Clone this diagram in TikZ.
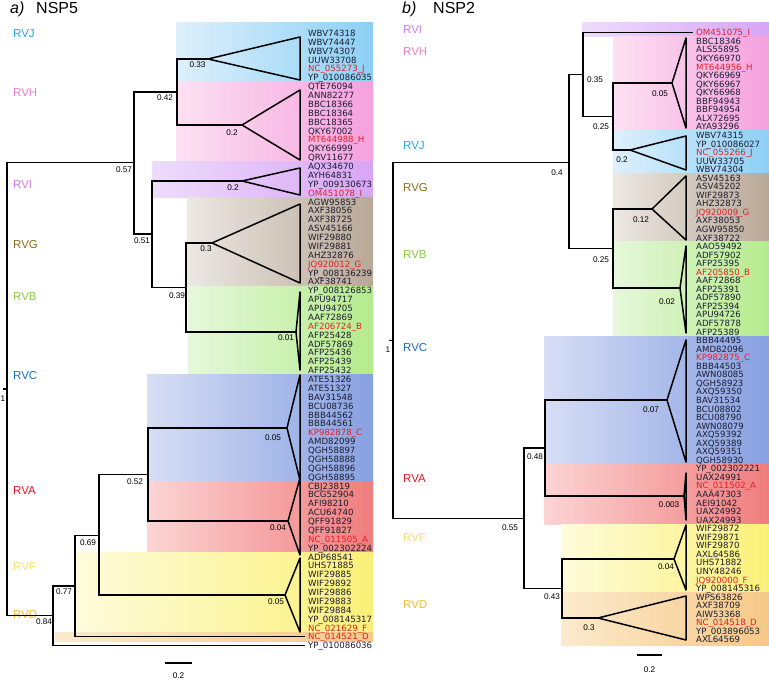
\documentclass[tikz,border=0pt]{standalone}
\usepackage{fontspec}
\setmainfont{Liberation Sans}
\newfontfamily\leaffont{DejaVu Sans}
\definecolor{leafred}{RGB}{228,32,40}
\definecolor{leafblack}{RGB}{28,28,48}
\definecolor{cJ}{RGB}{30,170,225}
\definecolor{cH}{RGB}{235,125,205}
\definecolor{cI}{RGB}{205,125,235}
\definecolor{cG}{RGB}{140,110,30}
\definecolor{cB}{RGB}{140,200,70}
\definecolor{cC}{RGB}{25,110,190}
\definecolor{cA}{RGB}{220,25,40}
\definecolor{cF}{RGB}{245,222,120}
\definecolor{cD}{RGB}{238,190,50}
\definecolor{jL}{RGB}{222,240,252}\definecolor{jR}{RGB}{140,208,245}
\definecolor{hL}{RGB}{252,225,242}\definecolor{hR}{RGB}{245,160,222}
\definecolor{iL}{RGB}{238,220,252}\definecolor{iR}{RGB}{215,165,245}
\definecolor{gL}{RGB}{236,232,228}\definecolor{gR}{RGB}{185,168,150}
\definecolor{bL}{RGB}{230,248,220}\definecolor{bR}{RGB}{180,235,140}
\definecolor{kL}{RGB}{215,222,245}\definecolor{kR}{RGB}{135,160,225}
\definecolor{aL}{RGB}{252,212,212}\definecolor{aR}{RGB}{240,125,125}
\definecolor{fL}{RGB}{254,252,220}\definecolor{fR}{RGB}{250,240,120}
\definecolor{dL}{RGB}{252,234,205}\definecolor{dR}{RGB}{245,200,135}
\newcommand{\R}[1]{\textcolor{leafred}{#1}}
\tikzset{
  tree/.style={line width=1.5pt, line cap=rect},
  tri/.style={line width=1.5pt, line join=round},
  leavesL/.style={anchor=north west, inner sep=0pt, align=left, text=leafblack,
     font=\leaffont\fontsize{8.6}{8.875}\selectfont},
  leavesR/.style={anchor=north west, inner sep=0pt, align=left, text=leafblack,
     font=\leaffont\fontsize{8.6}{8.55}\selectfont},
  val/.style={inner sep=0pt, font=\fontsize{8.2}{9}\selectfont},
  clade/.style={anchor=west, inner sep=0pt, font=\fontsize{11.5}{13}\selectfont},
  ttl/.style={anchor=base west, inner sep=0pt, font=\fontsize{16}{18}\selectfont},
}
\begin{document}
\begin{tikzpicture}[x=1pt,y=-1pt]
\useasboundingbox (0,0) rectangle (769,682);
\fill[white] (0,0) rectangle (769,682);

% ---------------- left panel boxes
\shade[left color=jL,right color=jR] (176,23) rectangle (373,81.8);
\shade[left color=hL,right color=hR] (176,81.8) rectangle (373,161.7);
\shade[left color=iL,right color=iR] (152,161.7) rectangle (373,197.4);
\shade[left color=gL,right color=gR] (187,197.4) rectangle (373,286);
\shade[left color=bL,right color=bR] (188,286) rectangle (373,374.7);
\shade[left color=kL,right color=kR] (147,374.7) rectangle (373,481);
\shade[left color=aL,right color=aR] (147,481) rectangle (373,552);
\shade[left color=fL,right color=fR] (76,552) rectangle (373,632);
\shade[left color=dL,right color=dR] (55,632) rectangle (373,641);

% ---------------- right panel boxes
\shade[left color=iL,right color=iR] (582,23) rectangle (769,36.7);
\shade[left color=hL,right color=hR] (613,36.7) rectangle (769,130.8);
\shade[left color=jL,right color=jR] (613,130.8) rectangle (769,172.5);
\shade[left color=gL,right color=gR] (613,173.5) rectangle (769,241.9);
\shade[left color=bL,right color=bR] (613,241.9) rectangle (769,336);
\shade[left color=kL,right color=kR] (544,336) rectangle (769,464.3);
\shade[left color=aL,right color=aR] (544,464.3) rectangle (769,524.4);
\shade[left color=fL,right color=fR] (561,524.4) rectangle (769,592.5);
\shade[left color=dL,right color=dR] (561,592.5) rectangle (769,645);

% ---------------- titles
\node[ttl] (ta) at (10,13.5) {\textit{a)}};
\node[ttl] (tn5) at (36,13.5) {NSP5};
\node[ttl] (tb) at (402,13.5) {\textit{b)}};
\node[ttl] (tn2) at (433,13.5) {NSP2};

% ---------------- left clade names
\node[clade,text=cJ] (LcJ) at (13,34) {RVJ};
\node[clade,text=cH] (LcH) at (13,93) {RVH};
\node[clade,text=cI] (LcI) at (13,185) {RVI};
\node[clade,text=cG] (LcG) at (13,245) {RVG};
\node[clade,text=cB] (LcB) at (13,297) {RVB};
\node[clade,text=cC] (LcC) at (13,376) {RVC};
\node[clade,text=cA] (LcA) at (13,491) {RVA};
\node[clade,text=cF] (LcF) at (13,567) {RVF};
\node[clade,text=cD] (LcD) at (13,615) {RVD};

% ---------------- right clade names
\node[clade,text=cI] (RcI) at (403,30) {RVI};
\node[clade,text=cH] (RcH) at (403,52) {RVH};
\node[clade,text=cJ] (RcJ) at (403,146) {RVJ};
\node[clade,text=cG] (RcG) at (403,188) {RVG};
\node[clade,text=cB] (RcB) at (403,255) {RVB};
\node[clade,text=cC] (RcC) at (403,348) {RVC};
\node[clade,text=cA] (RcA) at (403,479) {RVA};
\node[clade,text=cF] (RcF) at (403,538) {RVF};
\node[clade,text=cD] (RcD) at (403,605) {RVD};

% ---------------- left tree coordinates
\coordinate (L1) at (7,389);
\coordinate (n057) at (134,162.5);
\coordinate (n084) at (53,615.4);
\coordinate (n042) at (177,92);
\coordinate (n051) at (152,234.2);
\coordinate (n039) at (186,287.5);
\coordinate (n052) at (148,474.5);
\coordinate (n069) at (99,535.5);
\coordinate (n077) at (75,586);
\coordinate (tJ) at (208,59);
\coordinate (tH) at (242,125);
\coordinate (tI) at (242,181);
\coordinate (tG) at (212,243);
\coordinate (tB) at (296,332);
\coordinate (tC) at (287,428);
\coordinate (tA) at (288,521);
\coordinate (tF) at (285,595);
\coordinate (lD) at (304,636.5);
\coordinate (lO) at (304,645.4);

\draw[tree] (L1) -- ++(-3,0);
\draw[tree] (L1) |- (n057);
\draw[tree] (L1) |- (n084);
\draw[tree] (n057) |- (n042);
\draw[tree] (n057) |- (n051);
\draw[tree] (n042) |- (tJ);
\draw[tree] (n042) |- (tH);
\draw[tree] (n051) |- (tI);
\draw[tree] (n051) |- (n039);
\draw[tree] (n039) |- (tG);
\draw[tree] (n039) |- (tB);
\draw[tree] (n084) |- (n077);
\draw[tree] (n084) |- (lO);
\draw[tree] (n077) |- (n069);
\draw[tree] (n077) |- (lD);
\draw[tree] (n069) |- (n052);
\draw[tree] (n069) |- (tF);
\draw[tree] (n052) |- (tC);
\draw[tree] (n052) |- (tA);

\draw[tri] (tJ) -- (300,37) -- (300,80) -- cycle;
\draw[tri] (tH) -- (300,90) -- (300,160) -- cycle;
\draw[tri] (tI) -- (300,168) -- (300,195) -- cycle;
\draw[tri] (tG) -- (300,204) -- (300,283) -- cycle;
\draw[tri] (tB) -- (300,292) -- (300,370) -- cycle;
\draw[tri] (tC) -- (300,375) -- (300,480) -- cycle;
\draw[tri] (tA) -- (300,478) -- (300,555) -- cycle;
\draw[tri] (tF) -- (300,558) -- (300,632) -- cycle;

% ---------------- left support values
\node[val] (v1L) at (3,399) {1};
\node[val] (v033) at (197.5,65) {0.33};
\node[val] (v042) at (165,98) {0.42};
\node[val] (v02H) at (232,133) {0.2};
\node[val] (v02I) at (233,188) {0.2};
\node[val] (v03) at (206,249) {0.3};
\node[val] (v039) at (177,296) {0.39};
\node[val] (v057) at (124,170) {0.57};
\node[val] (v051) at (142,241) {0.51};
\node[val] (v001) at (286,338) {0.01};
\node[val] (v005C) at (273,438) {0.05};
\node[val] (v052) at (135,482) {0.52};
\node[val] (v004A) at (278,528) {0.04};
\node[val] (v069) at (88,543) {0.69};
\node[val] (v005F) at (276,602) {0.05};
\node[val] (v077) at (64,592) {0.77};
\node[val] (v084) at (44,622) {0.84};

% ---------------- left leaves
\node[leavesL] (LJ) at (308,29.9) {WBV74318\\WBV74447\\WBV74307\\UUW33708\\\R{NC\_055273\_J}\\YP\_010086035};
\node[leavesL] (LH) at (308,83.1) {QTE76094\\ANN82277\\BBC18366\\BBC18364\\BBC18365\\QKY67002\\\R{MT644988\_H}\\QKY66999\\QRV11677};
\node[leavesL] (LI) at (308,163) {AQX34670\\AYH64831\\YP\_009130673\\\R{OM451078\_I}};
\node[leavesL] (LG) at (308,198.5) {AGW95853\\AXF38056\\AXF38725\\ASV45166\\WIF29880\\WIF29881\\AHZ32876\\\R{JQ920012\_G}\\YP\_008136239\\AXF38741};
\node[leavesL] (LB) at (308,287.2) {YP\_008126853\\APU94717\\APU94705\\AAF72869\\\R{AF206724\_B}\\AFP25428\\ADF57869\\AFP25436\\AFP25439\\AFP25432};
\node[leavesL] (LC) at (308,376) {ATE51326\\ATE51327\\BAV31548\\BCU08736\\BBB44562\\BBB44561\\\R{KP982878\_C}\\AMD82099\\QGH58897\\QGH58888\\QGH58896\\QGH58895};
\node[leavesL] (LA) at (308,482.5) {CBJ23819\\BCG52904\\AFI98210\\ACU64740\\QFF91829\\QFF91827\\\R{NC\_011505\_A}\\YP\_002302224};
\node[leavesL] (LF) at (308,553.5) {ADP68541\\UHS71885\\WIF29885\\WIF29892\\WIF29886\\WIF29883\\WIF29884\\YP\_008145317\\\R{NC\_021629\_F}};
\node[leavesL] (LD) at (308,633.4) {\R{NC\_014521\_D}};
\node[leavesL] (LO) at (308,642.3) {YP\_010086036};

% ---------------- right tree coordinates
\coordinate (R1) at (393,340.3);
\coordinate (m04) at (569,162.3);
\coordinate (m055) at (524,518.3);
\coordinate (m035) at (583,74.5);
\coordinate (m025a) at (613,116.5);
\coordinate (m025b) at (613,248.5);
\coordinate (m048) at (545,448);
\coordinate (m043) at (562,588.5);
\coordinate (uI) at (692,32.4);
\coordinate (uH) at (672,83);
\coordinate (uJ) at (630,150);
\coordinate (uG) at (652,209);
\coordinate (uB) at (680,288);
\coordinate (uC) at (667,400);
\coordinate (uA) at (684,496);
\coordinate (uF) at (674,559);
\coordinate (uD) at (598,618);

\draw[tree] (R1) -- ++(-3,0);
\draw[tree] (R1) |- (m04);
\draw[tree] (R1) |- (m055);
\draw[tree] (m04) |- (m035);
\draw[tree] (m04) |- (m025b);
\draw[tree] (m035) |- (uI);
\draw[tree] (m035) |- (m025a);
\draw[tree] (m025a) |- (uH);
\draw[tree] (m025a) |- (uJ);
\draw[tree] (m025b) |- (uG);
\draw[tree] (m025b) |- (uB);
\draw[tree] (m055) |- (m048);
\draw[tree] (m055) |- (m043);
\draw[tree] (m048) |- (uC);
\draw[tree] (m048) |- (uA);
\draw[tree] (m043) |- (uF);
\draw[tree] (m043) |- (uD);

\draw[tri] (uH) -- (686,38) -- (686,128) -- cycle;
\draw[tri] (uJ) -- (686,136) -- (686,170) -- cycle;
\draw[tri] (uG) -- (686,176) -- (686,240) -- cycle;
\draw[tri] (uB) -- (686,246) -- (686,333) -- cycle;
\draw[tri] (uC) -- (686,340) -- (686,462) -- cycle;
\draw[tri] (uA) -- (686,473) -- (686,520) -- cycle;
\draw[tri] (uF) -- (686,525) -- (686,590) -- cycle;
\draw[tri] (uD) -- (686,596) -- (686,640) -- cycle;

% ---------------- right support values
\node[val] (w1R) at (388,350) {1};
\node[val] (w035) at (595,80) {0.35};
\node[val] (w025a) at (601,127) {0.25};
\node[val] (w02J) at (622,160) {0.2};
\node[val] (w005H) at (660,94) {0.05};
\node[val] (w04) at (557,173) {0.4};
\node[val] (w012) at (641,220) {0.12};
\node[val] (w025b) at (601,260) {0.25};
\node[val] (w002) at (667,302) {0.02};
\node[val] (w007) at (651,410) {0.07};
\node[val] (w048) at (535,457) {0.48};
\node[val] (w0003) at (669,505) {0.003};
\node[val] (w055) at (510,528) {0.55};
\node[val] (w004F) at (666,567) {0.04};
\node[val] (w043) at (552,597) {0.43};
\node[val] (w03D) at (589,628) {0.3};

% ---------------- right leaves
\node[leavesR] (RI) at (696,29.3) {\R{OM451075\_I}};
\node[leavesR] (RH) at (696,37.8) {BBC18346\\ALS55895\\QKY66970\\\R{MT644956\_H}\\QKY66969\\QKY66967\\QKY66968\\BBF94943\\BBF94954\\ALX72695\\AYA93296};
\node[leavesR] (RJ) at (696,131.9) {WBV74315\\YP\_010086027\\\R{NC\_055266\_J}\\UUW33705\\WBV74304};
\node[leavesR] (RG) at (696,174.6) {ASV45163\\ASV45202\\WIF29873\\AHZ32873\\\R{JQ920009\_G}\\AXF38053\\AGW95850\\AXF38722};
\node[leavesR] (RB) at (696,243) {AAO59492\\ADF57902\\AFP25395\\\R{AF205850\_B}\\AAF72868\\AFP25391\\ADF57890\\AFP25394\\APU94726\\ADF57878\\AFP25389};
\node[leavesR] (RC) at (696,337.1) {BBB44495\\AMD82096\\\R{KP982875\_C}\\BBB44503\\AWN08085\\QGH58923\\AXQ59350\\BAV31534\\BCU08802\\BCU08790\\AWN08079\\AXQ59392\\AXQ59389\\AXQ59351\\QGH58930};
\node[leavesR] (RA) at (696,465.3) {YP\_002302221\\UAX24991\\\R{NC\_011502\_A}\\AAA47303\\AEI91042\\UAX24992\\UAX24993};
\node[leavesR] (RF) at (696,525.2) {WIF29872\\WIF29871\\WIF29870\\AXL64586\\UHS71882\\UNY48246\\\R{JQ920000\_F}\\YP\_008145316};
\node[leavesR] (RD) at (696,593.6) {WPS63826\\AXF38709\\AIW53368\\\R{NC\_014518\_D}\\YP\_003896053\\AXL64569};

% ---------------- scale bars
\coordinate (sL1) at (165,663);
\coordinate (sL2) at (192,663);
\draw[line width=1.2pt] (sL1) -- (sL2);
\node[val] (sLt) at (178.5,676) {0.2};
\coordinate (sR1) at (637,655);
\coordinate (sR2) at (662,655);
\draw[line width=1.2pt] (sR1) -- (sR2);
\node[val] (sRt) at (649.5,670) {0.2};
\end{tikzpicture}
\end{document}
